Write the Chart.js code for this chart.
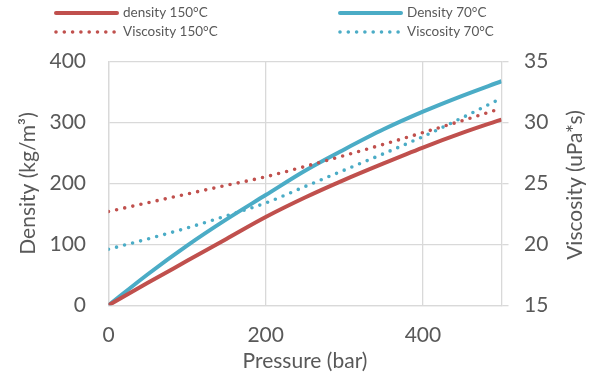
<!DOCTYPE html>
<html>
<head>
<meta charset="utf-8">
<script src="https://cdn.jsdelivr.net/npm/chart.js@4/dist/chart.umd.min.js"></script>
<style>
  html, body { margin: 0; padding: 0; background: #fff; }
  #wrap { position: relative; width: 594px; height: 377px; }
</style>
</head>
<body>
<div id="wrap"><canvas id="lineChart"></canvas></div>
<script>
const pressure = [0, 50, 100, 150, 200, 250, 300, 350, 400, 450, 500];
const density150 = [0, 37, 73, 109, 145, 177, 206, 233, 259, 283, 305];
const density70 = [0, 51, 98, 141, 181, 221, 256, 289, 318, 344, 368];
const viscosity150 = [22.7, 23.42, 24.14, 24.85, 25.55, 26.4, 27.3, 28.22, 29.18, 30.16, 31.18];
const viscosity70 = [19.6, 20.45, 21.35, 22.35, 23.4, 24.75, 26.1, 27.45, 28.85, 30.4, 32.0];
const xTicks = [0, 200, 400];

const red = 'rgb(192, 80, 77)';
const blue = 'rgb(75, 172, 198)';
const grey = '#d9d9d9';
const textColor = '#595959';
const fontFamily = 'Lato, "Open Sans", sans-serif';

function toPoints(values) {
    return pressure.map((p, i) => ({ x: p, y: values[i] }));
}

// legend laid out in two columns like the original
const legendPlugin = {
    id: 'twoColLegend',
    afterDraw(chart) {
        const ctx = chart.ctx;
        const cols = [56, 340];
        const rows = [13, 32];
        const place = [[0, 0], [0, 1], [1, 0], [1, 1]];
        chart.data.datasets.forEach((ds, i) => {
            const x = cols[place[i][0]];
            const y = rows[place[i][1]];
            ctx.save();
            ctx.strokeStyle = ds.borderColor;
            ctx.lineWidth = ds.borderWidth;
            ctx.lineCap = 'round';
            ctx.setLineDash(ds.borderDash || []);
            ctx.beginPath();
            ctx.moveTo(x, y);
            ctx.lineTo(x + 61, y);
            ctx.stroke();
            ctx.setLineDash([]);
            ctx.fillStyle = textColor;
            ctx.font = '13.5px ' + fontFamily;
            ctx.textBaseline = 'middle';
            ctx.fillText(ds.label, x + 67, y);
            ctx.restore();
        });

        // right axis title reads bottom to top
        ctx.save();
        ctx.translate(575, 185);
        ctx.rotate(-Math.PI / 2);
        ctx.fillStyle = textColor;
        ctx.font = '21px ' + fontFamily;
        ctx.textAlign = 'center';
        ctx.textBaseline = 'middle';
        ctx.fillText('Viscosity (uPa*s)', 0, 0);
        ctx.restore();
    }
};

const ctx = document.getElementById('lineChart').getContext('2d');
new Chart(ctx, {
    type: 'line',
    data: {
        datasets: [
            {
                label: 'density 150°C',
                data: toPoints(density150),
                yAxisID: 'y',
                borderColor: red,
                borderWidth: 4,
                cubicInterpolationMode: 'monotone',
                pointRadius: 0
            },
            {
                label: 'Viscosity 150°C',
                data: toPoints(viscosity150),
                yAxisID: 'y1',
                borderColor: red,
                borderWidth: 3.6,
                borderDash: [0, 8.3],
                borderCapStyle: 'round',
                cubicInterpolationMode: 'monotone',
                pointRadius: 0
            },
            {
                label: 'Density 70°C',
                data: toPoints(density70),
                yAxisID: 'y',
                borderColor: blue,
                borderWidth: 4,
                cubicInterpolationMode: 'monotone',
                pointRadius: 0
            },
            {
                label: 'Viscosity 70°C',
                data: toPoints(viscosity70),
                yAxisID: 'y1',
                borderColor: blue,
                borderWidth: 3.6,
                borderDash: [0, 8.3],
                borderCapStyle: 'round',
                cubicInterpolationMode: 'monotone',
                pointRadius: 0
            }
        ]
    },
    options: {
        responsive: true,
        maintainAspectRatio: false,
        animation: false,
        layout: {
            padding: { top: 61.7, left: 0, right: 0, bottom: 0 }
        },
        plugins: {
            legend: { display: false },
            tooltip: { enabled: false }
        },
        scales: {
            x: {
                type: 'linear',
                min: 0,
                max: 500,
                afterBuildTicks: axis => { axis.ticks = xTicks.map(v => ({ value: v })); },
                afterFit: s => { s.height = 71.7; },
                grid: { color: grey, lineWidth: 1.3, drawTicks: false },
                border: { color: grey, width: 1.3 },
                ticks: {
                    color: textColor,
                    font: { family: fontFamily, size: 21 },
                    padding: 17.6,
                    maxRotation: 0
                },
                title: {
                    display: true,
                    text: 'Pressure (bar)',
                    color: textColor,
                    font: { family: fontFamily, size: 21 },
                    padding: { top: 0, bottom: 3.4 }
                }
            },
            y: {
                position: 'left',
                min: 0,
                max: 400,
                afterFit: s => { s.width = 108.5; },
                grid: { color: grey, lineWidth: 1.3, drawTicks: false },
                border: { color: grey, width: 1.3 },
                ticks: {
                    stepSize: 100,
                    color: textColor,
                    font: { family: fontFamily, size: 21 },
                    padding: 22.5
                },
                title: {
                    display: true,
                    text: 'Density (kg/m³)',
                    color: textColor,
                    font: { family: fontFamily, size: 21 },
                    padding: { top: 15.4, bottom: 0 }
                }
            },
            y1: {
                position: 'right',
                min: 15,
                max: 35,
                afterFit: s => { s.width = 92.5; },
                grid: { drawOnChartArea: false, color: grey, lineWidth: 1.3, tickLength: 7 },
                border: { color: grey, width: 1.3 },
                ticks: {
                    stepSize: 5,
                    color: textColor,
                    font: { family: fontFamily, size: 21 },
                    padding: 15.5
                }
            }
        }
    },
    plugins: [legendPlugin]
});
</script>
</body>
</html>
